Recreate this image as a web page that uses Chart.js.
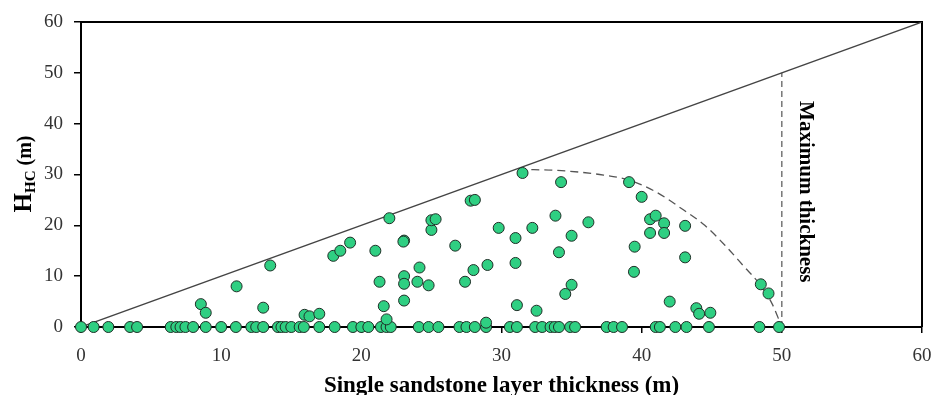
<!DOCTYPE html>
<html>
<head>
<meta charset="utf-8">
<title>HC height vs sandstone thickness</title>
<script src="https://cdn.jsdelivr.net/npm/chart.js@4.4.1/dist/chart.umd.min.js"></script>
<style>
  html, body { margin: 0; padding: 0; background: #fff; }
  #wrap { width: 933px; height: 395px; position: relative; }
</style>
</head>
<body>
<div id="wrap"><canvas id="chartHC"></canvas></div>
<script>
// sandstone layers with no hydrocarbon column (plotted on the x axis)
const zeroLayers = [0, 0.9, 1.95, 3.5, 4.0, 6.4, 6.8, 7.1, 7.45, 8.0, 8.9, 10.0, 11.05, 12.15,
  12.5, 13.0, 14.05, 14.3, 14.6, 15.0, 15.6, 15.9, 17.0, 18.1, 19.4, 20.0, 20.5, 21.4, 21.8,
  22.1, 24.1, 24.8, 25.5, 27.0, 27.5, 28.1, 28.9, 30.6, 31.1, 32.4, 32.9, 33.5, 33.8, 34.1,
  34.9, 35.25, 37.5, 38.0, 38.6, 41.0, 41.3, 42.4, 43.2, 44.8, 48.4, 49.8];

// layers with a hydrocarbon column: thickness (m) and H_HC (m)
const layerThickness = [8.55, 8.9, 11.1, 13.0, 13.5, 15.95, 16.3, 17.0, 18.0, 18.5, 19.2, 21.0,
  21.3, 21.6, 21.8, 22.0, 23.05, 23.0, 23.05, 23.05, 23.05, 24.0, 24.15, 24.8, 25.0, 25.0, 25.3,
  26.7, 27.4, 28.0, 29.0, 27.8, 28.1, 28.9, 29.8, 31.0, 31.0, 31.1, 31.5, 32.2, 32.5, 33.85,
  34.1, 34.25, 34.55, 35.0, 35.0, 36.2, 39.1, 40.0, 40.6, 41.0, 41.6, 40.6, 41.6, 43.1, 39.5,
  43.1, 39.45, 42.0, 43.9, 44.1, 44.9, 48.5, 49.05];
const layerHC = [4.5, 2.8, 8.0, 3.8, 12.1, 2.4, 2.1, 2.6, 14.0, 15.0, 16.6, 15.0,
  8.9, 4.1, 1.5, 21.4, 17.0, 16.8, 10.0, 8.5, 5.2, 8.9, 11.7, 8.2, 19.1, 21.0, 21.2,
  16.0, 8.9, 11.2, 12.2, 24.85, 25.0, 0.85, 19.5, 17.5, 12.6, 4.3, 30.3, 19.5, 3.2, 21.9,
  14.7, 28.5, 6.5, 8.3, 17.95, 20.6, 28.5, 25.6, 21.2, 21.9, 20.4, 18.5, 18.5, 19.9, 15.8,
  13.7, 10.85, 5.0, 3.7, 2.6, 2.8, 8.4, 6.6];

// 1:1 line, maximum thickness marker and the upper envelope of the data
const diagonalX = [0, 60];
const diagonalY = [0, 60];
const maxThickX = [50, 50];
const maxThickY = [0, 50];
const envelopeX = [31.2, 34.0, 37.0, 39.1, 41.0, 43.0, 44.5, 46.0, 47.3, 48.4, 49.3, 50.0];
const envelopeY = [31.0, 30.8, 30.0, 28.9, 26.6, 23.0, 20.0, 15.9, 11.9, 8.5, 4.6, 0.0];

const xTicks = [0, 10, 20, 30, 40, 50, 60];
const yTicks = [0, 10, 20, 30, 40, 50, 60];

function toPoints(xs, ys) {
    return xs.map((x, i) => ({ x: x, y: ys[i] }));
}

const scatterPoints = zeroLayers.map(x => ({ x: x, y: 0 }))
    .concat(toPoints(layerThickness, layerHC));

const SERIF = "'Liberation Serif', 'Times New Roman', serif";

// frame on top/right plus the hand-placed labels
const annotate = {
    id: 'annotate',
    beforeDatasetsDraw(chart) {
        const { ctx, chartArea: a } = chart;
        ctx.save();
        ctx.strokeStyle = '#000';
        ctx.lineWidth = 2;
        ctx.beginPath();
        ctx.moveTo(a.left, a.top);
        ctx.lineTo(a.right, a.top);
        ctx.lineTo(a.right, a.bottom);
        ctx.stroke();
        ctx.restore();
    },
    afterDraw(chart) {
        const { ctx, chartArea: a } = chart;
        const xs = chart.scales.x, ys = chart.scales.y;
        ctx.save();
        ctx.fillStyle = '#000';

        // x axis title
        ctx.font = 'bold 23px ' + SERIF;
        ctx.textAlign = 'center';
        ctx.textBaseline = 'alphabetic';
        ctx.fillText('Single sandstone layer thickness (m)', (a.left + a.right) / 2, 392);

        // y axis title with subscript
        ctx.save();
        ctx.translate(31, 174);
        ctx.rotate(-Math.PI / 2);
        const parts = [
            { t: 'H', f: 'bold 25px ' + SERIF, dy: 0 },
            { t: 'HC', f: 'bold 15px ' + SERIF, dy: 4 },
            { t: ' (m)', f: 'bold 20px ' + SERIF, dy: 0 }
        ];
        let total = 0;
        parts.forEach(p => { ctx.font = p.f; p.w = ctx.measureText(p.t).width; total += p.w; });
        let cx = -total / 2;
        ctx.textAlign = 'left';
        parts.forEach(p => {
            ctx.font = p.f;
            ctx.fillText(p.t, cx, p.dy);
            cx += p.w;
        });
        ctx.restore();

        // vertical note beside the maximum thickness line
        ctx.save();
        ctx.translate(xs.getPixelForValue(50) + 18, ys.getPixelForValue(26.6));
        ctx.rotate(Math.PI / 2);
        ctx.font = 'bold 21px ' + SERIF;
        ctx.textAlign = 'center';
        ctx.textBaseline = 'alphabetic';
        ctx.fillText('Maximum thickness', 0, 0);
        ctx.restore();

        ctx.restore();
    }
};

new Chart(document.getElementById('chartHC'), {
    type: 'scatter',
    data: {
        datasets: [
            {
                label: 'Layers',
                data: scatterPoints,
                pointRadius: 5.5,
                pointHoverRadius: 5.5,
                pointBackgroundColor: '#2fcf82',
                pointBorderColor: '#1f2f27',
                pointBorderWidth: 1,
                clip: false
            },
            {
                label: '1:1',
                type: 'line',
                data: toPoints(diagonalX, diagonalY),
                borderColor: '#444',
                borderWidth: 1.3,
                pointRadius: 0,
                fill: false
            },
            {
                label: 'Maximum thickness',
                type: 'line',
                data: toPoints(maxThickX, maxThickY),
                borderColor: '#555',
                borderWidth: 1.2,
                borderDash: [6, 4],
                pointRadius: 0,
                fill: false
            },
            {
                label: 'Envelope',
                type: 'line',
                data: toPoints(envelopeX, envelopeY),
                borderColor: '#555',
                borderWidth: 1.3,
                borderDash: [8, 5],
                cubicInterpolationMode: 'monotone',
                pointRadius: 0,
                fill: false
            }
        ]
    },
    options: {
        responsive: true,
        maintainAspectRatio: false,
        animation: false,
        layout: { padding: { left: 0, right: 11, top: 22, bottom: 0 } },
        plugins: {
            legend: { display: false },
            tooltip: { enabled: false }
        },
        scales: {
            x: {
                type: 'linear',
                min: 0,
                max: 60,
                afterBuildTicks: s => { s.ticks = xTicks.map(v => ({ value: v })); },
                afterFit: s => { s.height = 68; s.paddingLeft = 0; s.paddingRight = 0; },
                ticks: {
                    color: '#333',
                    font: { family: SERIF, size: 19 },
                    padding: 12,
                    maxRotation: 0,
                    autoSkip: false
                },
                grid: { display: true, drawOnChartArea: false, drawTicks: true, tickLength: 6, color: '#000', lineWidth: 1.5 },
                border: { display: true, color: '#000', width: 2 }
            },
            y: {
                type: 'linear',
                min: 0,
                max: 60,
                afterBuildTicks: s => { s.ticks = yTicks.map(v => ({ value: v })); },
                afterFit: s => { s.width = 81; s.paddingTop = 0; s.paddingBottom = 0; },
                ticks: {
                    color: '#333',
                    font: { family: SERIF, size: 19 },
                    padding: 11,
                    autoSkip: false
                },
                grid: { display: true, drawOnChartArea: false, drawTicks: true, tickLength: 7, color: '#000', lineWidth: 1.5 },
                border: { display: true, color: '#000', width: 2 }
            }
        }
    },
    plugins: [annotate]
});
</script>
</body>
</html>
